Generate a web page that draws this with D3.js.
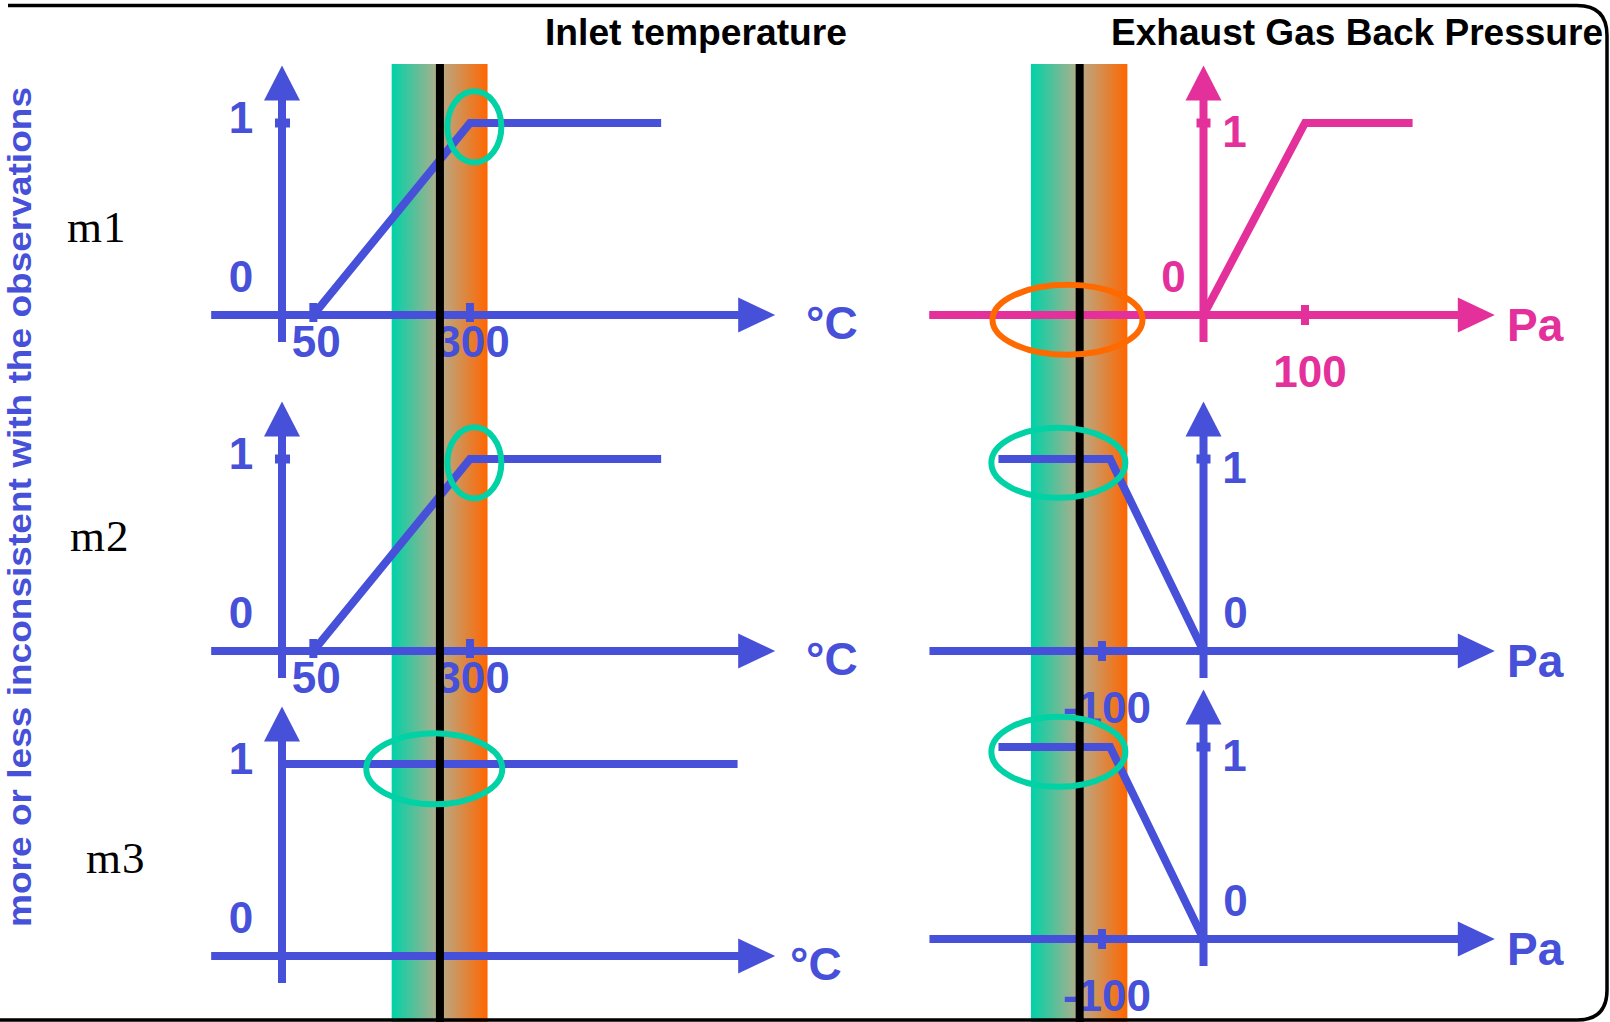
<!DOCTYPE html>
<html>
<head>
<meta charset="utf-8">
<script src="https://cdn.jsdelivr.net/npm/d3@7"></script>
<style>
  body { margin: 0; background: #fff; }
  svg text { font-family: "Liberation Sans", Arial, sans-serif; font-weight: bold; }
</style>
</head>
<body>
<div id="chart"></div>
<script>
// model names (row labels)
const modelNames = ["m1", "m2", "m3"];

// inlet temperature membership curves, [°C, degree]
const inletCurves = [
    [[0, 0], [50, 0], [300, 1], [605, 1]],
    [[0, 0], [50, 0], [300, 1], [605, 1]],
    [[0, 1], [727, 1]]
];
const inletTicks = [[50, 300], [50, 300], []];

// exhaust gas back pressure membership curves, [Pa, degree]
const pressureCurves = [
    [[-270, 0], [0, 0], [100, 1], [206, 1]],
    [[-202, 1], [-92, 1], [0, 0], [206, 0]],
    [[-202, 1], [-92, 1], [0, 0], [206, 0]]
];
const pressureTicks = [[100], [-100], [-100]];

// observation bands: [low, observed, high]
const inletBand = [175, 252, 328];
const pressureBand = [-170, -122, -75];

// highlighted spots (ellipse centres) in data units
const inletMarks = [[307, 0.98], [307, 0.98], [243, 0.975]];
const pressureMarks = [[-134, -0.025], [-143, 0.98], [-143, 0.975]];

const blue = "#4650d8", pink = "#e4309a", green = "#00d2a5", orange = "#ff6a00";

const W = 1610, H = 1022;
const svg = d3.select("#chart").append("svg")
    .attr("width", W).attr("height", H);

// gradient for the observation bands
const grad = svg.append("defs").append("linearGradient")
    .attr("id", "band").attr("x1", "0%").attr("x2", "100%");
grad.append("stop").attr("offset", "0%").attr("stop-color", "#00d2a8");
grad.append("stop").attr("offset", "50%").attr("stop-color", "#b6ac8a");
grad.append("stop").attr("offset", "100%").attr("stop-color", "#ff6600");

// x scales
const xT = d3.scaleLinear().domain([0, 300]).range([282, 470]);
const xP = d3.scaleLinear().domain([0, 100]).range([1203.5, 1305]);

// baseline (degree 0) of every row, one unit = 192px
const inletBase = [315, 651, 956];
const pressureBase = [315, 651, 939];
const yScale = base => d3.scaleLinear().domain([0, 1]).range([base, base - 192]);

const bandTop = 64;
const bandLayer = svg.append("g");
const plotLayer = svg.append("g");
const obsLayer = svg.append("g");
const markLayer = svg.append("g");

// bands
[[xT, inletBand], [xP, pressureBand]].forEach(([x, b]) => {
    bandLayer.append("rect")
        .attr("x", x(b[0])).attr("y", bandTop)
        .attr("width", x(b[2]) - x(b[0])).attr("height", H - bandTop)
        .attr("fill", "url(#band)");
    obsLayer.append("line")
        .attr("x1", x(b[1])).attr("x2", x(b[1]))
        .attr("y1", bandTop).attr("y2", H)
        .attr("stroke", "#000").attr("stroke-width", 8);
});

function drawAxes(g, x, y, xMin, xMax, color) {
    const y0 = y(0), x0 = x(0);
    const tipX = x(xMax), tipY = y(1.3);
    g.append("line")
        .attr("x1", x(xMin)).attr("x2", tipX - 30)
        .attr("y1", y0).attr("y2", y0)
        .attr("stroke", color).attr("stroke-width", 8);
    g.append("path")
        .attr("d", `M${tipX},${y0} L${tipX - 37},${y0 - 17.5} L${tipX - 37},${y0 + 17.5} Z`)
        .attr("fill", color);
    g.append("line")
        .attr("x1", x0).attr("x2", x0)
        .attr("y1", y(-0.14)).attr("y2", tipY + 30)
        .attr("stroke", color).attr("stroke-width", 8);
    g.append("path")
        .attr("d", `M${x0},${tipY} L${x0 - 18},${tipY + 35} L${x0 + 18},${tipY + 35} Z`)
        .attr("fill", color);
}

const line = (x, y) => d3.line().x(d => x(d[0])).y(d => y(d[1]));

modelNames.forEach((name, i) => {
    // ---- inlet temperature panel ----
    const yT = yScale(inletBase[i]);
    const gT = plotLayer.append("g");
    drawAxes(gT, xT, yT, -113, 787, blue);

    if (i < 2) {
        gT.append("line")
            .attr("x1", xT(0) - 7).attr("x2", xT(0) + 8)
            .attr("y1", yT(1)).attr("y2", yT(1))
            .attr("stroke", blue).attr("stroke-width", 9);
    }
    inletTicks[i].forEach(v => {
        gT.append("line")
            .attr("x1", xT(v)).attr("x2", xT(v))
            .attr("y1", yT(0) - 12).attr("y2", yT(0) + 7)
            .attr("stroke", blue).attr("stroke-width", 8);
        gT.append("text")
            .attr("x", xT(v) + 3).attr("y", yT(0) + 42)
            .attr("text-anchor", "middle")
            .attr("font-size", 44).attr("fill", blue)
            .text(v);
    });
    gT.append("path")
        .attr("d", line(xT, yT)(inletCurves[i]))
        .attr("fill", "none").attr("stroke", blue)
        .attr("stroke-width", 8).attr("stroke-linejoin", "miter");

    gT.append("text").attr("x", 241).attr("y", yT(1) + 10)
        .attr("text-anchor", "middle").attr("font-size", 44).attr("fill", blue).text("1");
    gT.append("text").attr("x", 241).attr("y", yT(0) - 23)
        .attr("text-anchor", "middle").attr("font-size", 44).attr("fill", blue).text("0");
    gT.append("text").attr("x", i === 2 ? 790 : 806).attr("y", yT(0) + 24)
        .attr("font-size", 46).attr("fill", blue).text("°C");

    // ---- back pressure panel ----
    const yP = yScale(pressureBase[i]);
    const col = i === 0 ? pink : blue;
    const gP = plotLayer.append("g");
    drawAxes(gP, xP, yP, -270, 287, col);

    gP.append("line")
        .attr("x1", xP(0) - 7).attr("x2", xP(0) + 7)
        .attr("y1", yP(1)).attr("y2", yP(1))
        .attr("stroke", col).attr("stroke-width", 9);
    pressureTicks[i].forEach(v => {
        gP.append("line")
            .attr("x1", xP(v)).attr("x2", xP(v))
            .attr("y1", yP(0) - 10).attr("y2", yP(0) + 10)
            .attr("stroke", col).attr("stroke-width", 8);
        gP.append("text")
            .attr("x", xP(v) + 5).attr("y", yP(0) + 72)
            .attr("text-anchor", "middle")
            .attr("font-size", 44).attr("fill", col)
            .text(v);
    });
    gP.append("path")
        .attr("d", line(xP, yP)(pressureCurves[i]))
        .attr("fill", "none").attr("stroke", col)
        .attr("stroke-width", 8).attr("stroke-linejoin", "miter");

    gP.append("text").attr("x", xP(0) + 31).attr("y", yP(1) + 24)
        .attr("text-anchor", "middle").attr("font-size", 44).attr("fill", col).text("1");
    gP.append("text").attr("x", i === 0 ? xP(0) - 30 : xP(0) + 32).attr("y", yP(0) - 23)
        .attr("text-anchor", "middle").attr("font-size", 44).attr("fill", col).text("0");
    gP.append("text").attr("x", 1507).attr("y", yP(0) + 26)
        .attr("font-size", 46).attr("fill", col).text("Pa");

    // ---- highlight ellipses ----
    const mT = inletMarks[i];
    markLayer.append("ellipse")
        .attr("cx", xT(mT[0])).attr("cy", yT(mT[1]))
        .attr("rx", i === 2 ? 68 : 27).attr("ry", 35.5)
        .attr("fill", "none").attr("stroke", green).attr("stroke-width", 6);
    const mP = pressureMarks[i];
    markLayer.append("ellipse")
        .attr("cx", xP(mP[0])).attr("cy", yP(mP[1]))
        .attr("rx", i === 0 ? 75 : 67).attr("ry", 35)
        .attr("fill", "none").attr("stroke", i === 0 ? orange : green).attr("stroke-width", 6);
});

// model labels
const modelPos = [[67, 242], [70, 551], [86, 873]];
svg.selectAll(".model")
    .data(modelNames)
    .join("text")
    .attr("class", "model")
    .attr("x", (d, i) => modelPos[i][0])
    .attr("y", (d, i) => modelPos[i][1])
    .style("font-family", "'Liberation Serif', 'Times New Roman', serif")
    .style("font-weight", "normal")
    .attr("font-size", 45)
    .attr("letter-spacing", 1)
    .text(d => d);

// titles
svg.append("text").attr("x", 545).attr("y", 45)
    .attr("font-size", 37).attr("fill", "#000")
    .attr("textLength", 302).attr("lengthAdjust", "spacingAndGlyphs")
    .text("Inlet temperature");
svg.append("text").attr("x", 1111).attr("y", 45)
    .attr("font-size", 37).attr("fill", "#000")
    .attr("textLength", 492).attr("lengthAdjust", "spacingAndGlyphs")
    .text("Exhaust Gas Back Pressure");

// side caption
svg.append("text")
    .attr("transform", "translate(31,927) rotate(-90)")
    .attr("font-size", 33).attr("fill", blue)
    .attr("textLength", 840).attr("lengthAdjust", "spacingAndGlyphs")
    .text("more or less inconsistent with the observations");

// frame
svg.append("path")
    .attr("d", "M8,5.5 H1577 Q1607,5.5 1607,35.5 V990 Q1607,1020 1577,1020 H0")
    .attr("fill", "none").attr("stroke", "#000").attr("stroke-width", 3.5);
</script>
</body>
</html>
